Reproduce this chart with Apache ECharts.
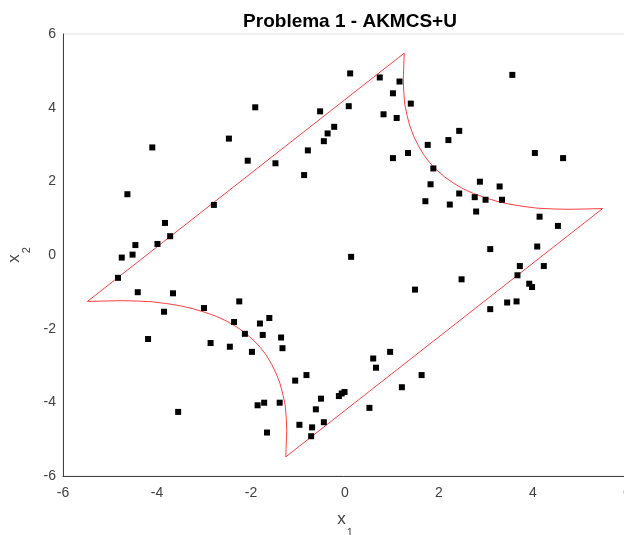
<!DOCTYPE html>
<html>
<head>
<meta charset="utf-8">
<script src="https://cdn.jsdelivr.net/npm/echarts@6/dist/echarts.min.js"></script>
<style>
html,body{margin:0;padding:0;background:#fff;}
#chart{width:624px;height:535px;}
</style>
</head>
<body>
<div id="chart"></div>
<script>
// Sample points (black squares)
var sampleX1 = [-2.47,-2.07,-4.10,-4.63,-2.79,-3.83,-3.72,-4.46,-3.99,-4.52,-4.75,
  0.11,0.74,1.16,1.02,1.40,-1.91,-0.53,0.08,0.82,1.10,-0.23,-0.37,-0.45,-0.79,1.76,1.02,1.34,-1.48,-0.87,1.88,1.82,1.71,0.13,
  3.56,2.43,2.20,4.04,4.64,2.87,3.29,2.43,2.76,2.99,3.34,2.23,2.79,4.14,4.53,3.09,4.09,
  3.72,4.23,3.67,2.48,3.92,3.98,3.45,3.65,3.09,
  1.49,-1.61,-1.81,-2.13,-1.75,-1.36,-1.33,-1.98,0.96,0.60,0.66,-0.82,-1.06,1.63,1.21,-0.51,-0.01,-0.07,-0.13,-1.86,-1.72,-1.39,-0.62,0.52,-0.45,-0.97,-0.70,-0.72,-1.66,
  -4.83,-4.41,-3.66,-3.85,-3.00,-2.25,-2.36,-4.19,-2.86,-2.45,-3.55];
var sampleX2 = [3.16,2.56,2.92,1.65,1.36,0.87,0.51,0.27,0.30,0.01,-0.07,
  4.93,4.82,4.71,4.39,4.11,4.01,3.90,4.04,3.82,3.72,3.48,3.30,3.09,2.84,2.99,2.63,2.77,2.49,2.17,2.35,1.92,1.46,-0.05,
  4.89,3.37,3.12,2.77,2.63,1.99,1.86,1.67,1.57,1.50,1.50,1.37,1.18,1.04,0.79,0.16,0.23,
  -0.30,-0.30,-0.55,-0.66,-0.78,-0.87,-1.29,-1.26,-1.47,
  -0.94,-1.71,-1.86,-2.14,-2.17,-2.24,-2.53,-2.63,-2.63,-2.81,-3.06,-3.26,-3.41,-3.26,-3.59,-3.90,-3.72,-3.76,-3.83,-4.08,-4.01,-4.01,-4.19,-4.15,-4.54,-4.61,-4.68,-4.92,-4.82,
  -0.62,-1.01,-1.04,-1.54,-1.44,-1.26,-1.82,-2.28,-2.39,-2.49,-4.26];

// Limit-state boundary (red curve)
var boundaryX1 = [-5.48, 1.26,
  1.25,1.24,1.25,1.27,1.32,1.38,1.46,1.56,1.67,1.80,1.95,2.12,2.31,2.51,2.73,2.97,3.23,3.50,3.79,4.10,4.43,4.77,5.12,5.48,
  -1.26,
  -1.25,-1.24,-1.25,-1.27,-1.32,-1.38,-1.46,-1.56,-1.67,-1.80,-1.95,-2.12,-2.31,-2.51,-2.73,-2.97,-3.23,-3.50,-3.79,-4.10,-4.43,-4.77,-5.12,-5.48];
var boundaryX2 = [-1.26, 5.48,
  5.12,4.77,4.43,4.10,3.79,3.50,3.23,2.97,2.73,2.51,2.31,2.12,1.95,1.80,1.67,1.56,1.46,1.38,1.32,1.27,1.25,1.24,1.25,1.26,
  -5.48,
  -5.12,-4.77,-4.43,-4.10,-3.79,-3.50,-3.23,-2.97,-2.73,-2.51,-2.31,-2.12,-1.95,-1.80,-1.67,-1.56,-1.46,-1.38,-1.32,-1.27,-1.25,-1.24,-1.25,-1.26];

var axisMin = -6, axisMax = 6, axisStep = 2;
var titleText = 'Problema 1 - AKMCS+U';

var samples = sampleX1.map(function(v, i){ return [v, sampleX2[i]]; });
var boundary = boundaryX1.map(function(v, i){ return [v, boundaryX2[i]]; });

var font = 'Liberation Sans, Arial, Helvetica, sans-serif';
var axisColor = '#404040';

function axisCommon(extra) {
  var o = {
    type: 'value', min: axisMin, max: axisMax, interval: axisStep,
    axisLine: { show: true, onZero: false, lineStyle: { color: axisColor, width: 1 } },
    axisTick: { show: false },
    splitLine: { show: false },
    nameLocation: 'middle',
    nameTextStyle: {
      color: axisColor, fontFamily: font,
      rich: {
        x: { fontSize: 17, lineHeight: 20, verticalAlign: 'top', color: axisColor, fontFamily: font },
        s: { fontSize: 11, lineHeight: 11, padding: [16, 0, 0, 1], verticalAlign: 'top', color: axisColor, fontFamily: font }
      }
    }
  };
  for (var k in extra) o[k] = extra[k];
  return o;
}

var chart = echarts.init(document.getElementById('chart'), null, { renderer: 'canvas' });
chart.setOption({
  animation: false,
  backgroundColor: '#ffffff',
  title: {
    text: titleText, left: 345, top: 7, textAlign: 'center',
    textStyle: { fontSize: 19, fontWeight: 'bold', color: '#000', fontFamily: font }
  },
  grid: { left: 63, top: 34, width: 564, height: 442, containLabel: false, outerBoundsMode: 'none',
          show: true, borderColor: '#e3e3e3', borderWidth: 1, backgroundColor: '#fff' },
  xAxis: axisCommon({ name: '{x|x}{s|1}', nameGap: 35, axisLabel: { color: axisColor, fontSize: 14, fontFamily: font, margin: 10 } }),
  yAxis: axisCommon({ name: '{x|x}{s|2}', nameGap: 28, nameRotate: 90, axisLabel: { color: axisColor, fontSize: 14, fontFamily: font, margin: 7 } }),
  series: [
    {
      type: 'line', data: boundary, showSymbol: false, symbol: 'none',
      lineStyle: { color: 'rgba(255,0,0,0.75)', width: 1 }, z: 2, silent: true
    },
    {
      type: 'scatter', data: samples, symbol: 'rect', symbolSize: 6,
      itemStyle: { color: '#000', opacity: 1 }, z: 3
    }
  ]
});
</script>
</body>
</html>
